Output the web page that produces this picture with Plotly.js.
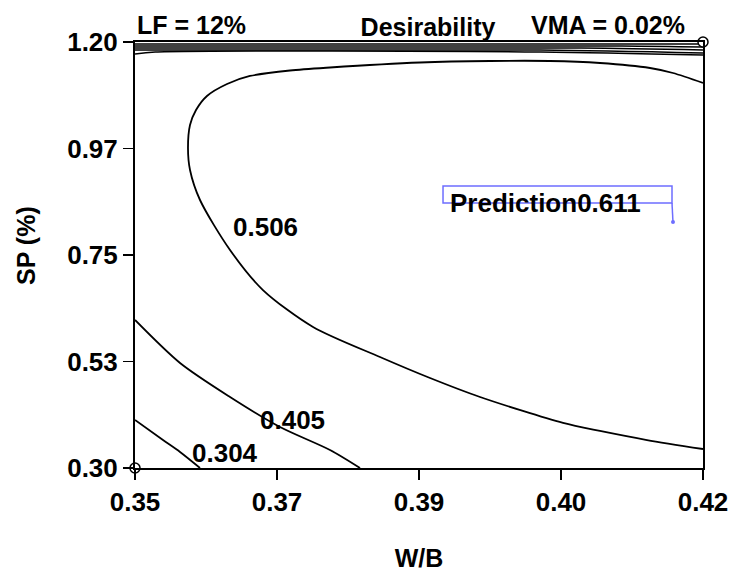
<!DOCTYPE html>
<html>
<head>
<meta charset="utf-8">
<script src="https://cdn.plot.ly/plotly-3.0.1.min.js"></script>
<style>html,body{margin:0;padding:0;background:#fff;}#chart{width:742px;height:572px;}</style>
</head>
<body>
<div id="chart"></div>
<script>
// ---- Data (W/B on x, SP % on y) ----
const xTickVals = [0.35, 0.3675, 0.385, 0.4025, 0.42];
const xTickText = ['0.35', '0.37', '0.39', '0.40', '0.42'];
const yTickVals = [0.30, 0.525, 0.75, 0.975, 1.20];
const yTickText = ['0.30', '0.53', '0.75', '0.97', '1.20'];

// Desirability contour 0.506 (C-shaped)
const c506_x = [0.42, 0.4131, 0.4073, 0.40275, 0.39252, 0.38636, 0.38019, 0.37194, 0.36577, 0.36171, 0.35801, 0.35678, 0.35653, 0.35678, 0.35752, 0.35887, 0.36134, 0.36417, 0.3691, 0.37403, 0.38512, 0.39375, 0.40114, 0.40731, 0.41347, 0.4163, 0.42];
const c506_y = [0.3401, 0.3591, 0.3782, 0.3951, 0.4500, 0.4901, 0.5345, 0.5979, 0.6760, 0.7606, 0.8662, 0.9296, 0.9761, 1.0246, 1.0563, 1.0859, 1.1113, 1.1282, 1.1398, 1.1461, 1.1567, 1.1599, 1.1599, 1.1556, 1.1451, 1.1345, 1.1134];
// Desirability contour 0.405
const c405_x = [0.35, 0.35555, 0.36171, 0.36787, 0.37403, 0.37773];
const c405_y = [0.6127, 0.5218, 0.4500, 0.3866, 0.3380, 0.30];
// Desirability contour 0.304
const c304_x = [0.35, 0.35345, 0.35555, 0.35801];
const c304_y = [0.4014, 0.3591, 0.3338, 0.30];
// Tightly packed contours along the top edge
const top1_x = [0.35, 0.42];            const top1_y = [1.1958, 1.1958];
const top2_x = [0.35, 0.41, 0.42];      const top2_y = [1.1915, 1.1915, 1.1894];
const top3_x = [0.35, 0.405, 0.42];     const top3_y = [1.1873, 1.1873, 1.1831];
const top4_x = [0.35, 0.40, 0.42];      const top4_y = [1.1831, 1.1831, 1.1768];
const top5_x = [0.35, 0.3525, 0.40, 0.42]; const top5_y = [1.1746, 1.1789, 1.1789, 1.1725];

// Design points and prediction
const designX = [0.35, 0.42];
const designY = [0.30, 1.20];
const predX = [0.4163];
const predY = [0.8197];
const predValue = '0.611';

const contourLabels = ['0.506', '0.405', '0.304'];

// ---- Plot ----
const FONT = 'Liberation Sans, Arial, sans-serif';
function line(x, y, w, smooth) {
  return {x: x, y: y, type: 'scatter', mode: 'lines',
    line: {color: '#000', width: w, shape: smooth ? 'spline' : 'linear', smoothing: 0.8},
    hoverinfo: 'skip', showlegend: false};
}
const traces = [
  line(c506_x, c506_y, 1.8, true), line(c405_x, c405_y, 1.8, true), line(c304_x, c304_y, 1.8, true),
  line(top1_x, top1_y, 1.5, false), line(top2_x, top2_y, 1.5, true), line(top3_x, top3_y, 1.5, true),
  line(top4_x, top4_y, 1.5, true), line(top5_x, top5_y, 1.5, true),
  {x: predX, y: predY, type: 'scatter', mode: 'markers', marker: {color: 'rgb(110,110,255)', size: 4}, showlegend: false, cliponaxis: false},
  {x: designX, y: designY, type: 'scatter', mode: 'markers', marker: {color: '#fff', size: 10, line: {color: '#000', width: 1.5}}, showlegend: false, cliponaxis: false}
];

const bold = (s) => ({family: FONT, size: s, color: '#000', weight: 700});

const layout = {
  width: 742, height: 572,
  margin: {l: 135, r: 39, t: 42, b: 104},
  paper_bgcolor: '#fff', plot_bgcolor: '#fff',
  showlegend: false,
  title: {text: 'Desirability', font: bold(25), x: 428 / 742, xanchor: 'center', y: 1 - 27 / 572, yanchor: 'middle'},
  xaxis: {
    range: [0.35, 0.42], tickvals: xTickVals, ticktext: xTickText,
    ticks: 'outside', ticklen: 10, tickwidth: 1.5, tickcolor: '#000',
    showline: true, linecolor: '#000', linewidth: 2, mirror: true,
    showgrid: false, zeroline: false, tickfont: bold(26),
    title: {text: 'W/B', font: bold(25), standoff: 34}
  },
  yaxis: {
    range: [0.30, 1.20], tickvals: yTickVals, ticktext: yTickText,
    ticks: 'outside', ticklen: 10, tickwidth: 1.5, tickcolor: '#000',
    showline: true, linecolor: '#000', linewidth: 2, mirror: true,
    showgrid: false, zeroline: false, tickfont: bold(26),
    title: {text: ''}
  },
  annotations: [
    {xref: 'paper', yref: 'paper', x: (26 - 135) / 568, y: (572 - 104 - 246) / 426, text: 'SP (%)', textangle: -90, showarrow: false, font: bold(25), xanchor: 'center', yanchor: 'middle'},
    {xref: 'paper', yref: 'paper', x: (191 - 135) / 568, y: 1, text: 'LF = 12%', showarrow: false, font: bold(25), xanchor: 'center', yanchor: 'bottom', yshift: 1},
    {xref: 'paper', yref: 'paper', x: (608 - 135) / 568, y: 1, text: 'VMA = 0.02%', showarrow: false, font: bold(25), xanchor: 'center', yanchor: 'bottom', yshift: 1},
    {x: 0.36614, y: 0.8091, text: contourLabels[0], showarrow: false, font: bold(26)},
    {x: 0.36935, y: 0.4014, text: contourLabels[1], showarrow: false, font: bold(26)},
    {x: 0.36109, y: 0.3317, text: contourLabels[2], showarrow: false, font: bold(26)},
    {x: 0.40053, y: 0.8599, text: 'Prediction' + predValue, showarrow: false, font: bold(26)}
  ],
  shapes: [
    {type: 'rect', x0: 0.38796, x1: 0.41618, y0: 0.8599, y1: 0.8958, line: {color: 'rgb(110,110,255)', width: 1.5}},
    {type: 'line', x0: 0.41618, x1: predX[0], y0: 0.8599, y1: predY[0], line: {color: 'rgb(110,110,255)', width: 1.5}}
  ]
};

Plotly.newPlot('chart', traces, layout, {displayModeBar: false, staticPlot: true});
</script>
</body>
</html>
